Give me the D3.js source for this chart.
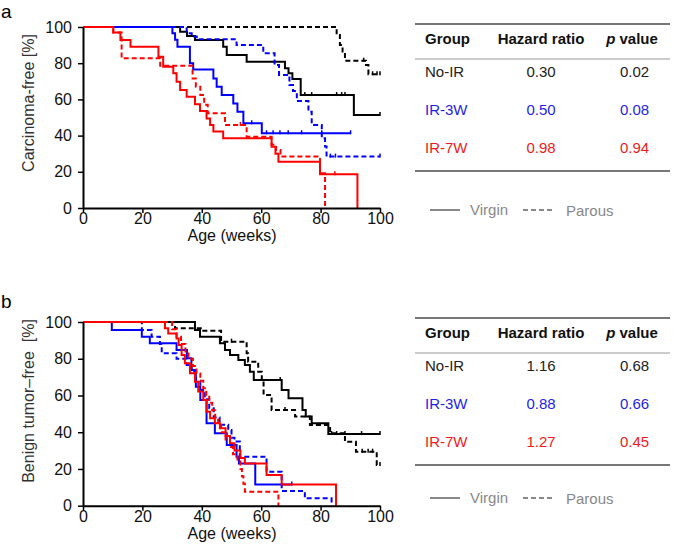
<!DOCTYPE html>
<html><head><meta charset="utf-8">
<script src="https://cdn.jsdelivr.net/npm/d3@7"></script>
<style>body{margin:0;background:#fff} text{font-family:Arial,"Liberation Sans",sans-serif}</style>
</head><body><svg id="c" width="675" height="558"></svg>
<script>
// ---------- DATA ----------
const xTicks = [0, 20, 40, 60, 80, 100];
const yTicks = [0, 20, 40, 60, 80, 100];
const groups = ["No-IR", "IR-3W", "IR-7W"];
const hrA = ["0.30", "0.50", "0.98"];
const pA  = ["0.02", "0.08", "0.94"];
const hrB = ["1.16", "0.88", "1.27"];
const pB  = ["0.68", "0.66", "0.45"];
const legendLabels = ["Virgin", "Parous"];

// Panel a (Carcinoma-free): [week, survival % after step]
const aNoIRVirgin = [[0,100],[32.7,97.4],[35,95],[37.7,92.8],[47.2,89.1],[48.4,84.5],[55.1,80.8],[68,77.2],[69.2,74.4],[70.5,71.3],[73.3,62.4],[91.2,51.4],[100,51.4]];
const aNoIRParous = [[0,100],[85.4,95.6],[86.5,90],[87.4,86.4],[88.2,81.4],[95.3,79],[96.1,73.9],[100,73.9]];
const aIR3Virgin  = [[0,100],[30.1,96.5],[31,93],[31.8,89.1],[36,80],[37.1,76.5],[43.9,71.6],[45,67],[46.7,62.4],[50.6,57.8],[52,53.2],[54,46.8],[60.2,41.3],[90.1,41.3]];
const aIR3Parous  = [[0,100],[34.9,96.5],[36.6,94.7],[38.3,93.2],[51.7,90],[60.7,85.5],[64.5,79],[66,73.5],[69.5,68],[70.7,64.6],[72,59.1],[75.9,53.2],[77,45.9],[80.4,38.5],[81.5,34],[82,28.4],[100,28.4]];
const aIR7Virgin  = [[0,100],[10.2,96.9],[12.6,92.8],[16,89.1],[25.4,83.6],[27,78],[30.4,74.4],[31.5,69.8],[32.7,65.2],[34.9,61.5],[37.7,57.3],[39.4,53.6],[41.6,49.5],[42.8,45.9],[43.9,42.2],[47.2,38.5],[63.5,33.9],[64.8,30],[65.8,25.6],[79.8,18.6],[92.4,0]];
const aIR7Parous  = [[0,100],[10.2,96.9],[13,82.7],[26,78.6],[36.9,71.6],[38,67],[39.5,62.4],[40.8,57],[42,52.3],[47.8,45.9],[55.1,39.4],[63.5,35],[65,32],[66.5,28.4],[79.8,19.2],[81.5,0]];
const aNoIRVirginCens = [74.7,77,85.4,87.1,88.2,100];
const aNoIRParousCens = [94.5,97.5,99,100];
const aIR3VirginCens = [56.8,61.8,64,66.3,69.1,73.6,80.4,90.1];
const aIR3ParousCens = [83.3,85,100];
const aIR7VirginCens = [84.8];
const aIR7ParousCens = [53];

// Panel b (Benign tumor-free)
const bNoIRVirgin = [[0,100],[37.7,95.6],[39.4,92],[46.1,88.4],[47.8,84.8],[49.5,82],[52.3,79.3],[54.5,76.6],[56.2,72.9],[57.5,68.4],[66.9,63],[69.2,58.5],[73.9,52.1],[75,48.5],[77,44.9],[82.6,39],[100,39]];
const bNoIRParous = [[0,100],[31,96.6],[40.5,95.3],[46.5,89.3],[55.1,83],[55.6,78.4],[59,72.9],[60.2,68.4],[60.8,60.3],[63.5,52.1],[71.4,48.5],[76.4,43.9],[83.2,39.4],[88.2,34.8],[91.9,29.4],[98.9,22.2],[100,22.2]];
const bIR3Virgin  = [[0,100],[9.7,95.6],[19.8,92],[22.5,88.4],[31.5,84.8],[35,80.2],[36.5,73.9],[38,64.8],[39.5,57.5],[41.6,44.9],[44.4,39.4],[48.4,33],[51.7,26.7],[52.5,23],[58,11.6],[70.3,11.6]];
const bIR3Parous  = [[0,100],[19.8,95.6],[23.1,92],[25.9,88],[26.5,83],[31.5,80],[34.9,76.6],[36.6,72.9],[38,68],[39.5,63],[41,58],[42.5,53],[44,48],[46,44],[48.9,41.2],[50,37],[51,35],[52.8,26.7],[61.8,18.5],[66.9,8],[74.7,4],[83.7,0]];
const bIR7Virgin  = [[0,100],[27.6,96.6],[28.7,93.8],[31.5,91],[32.2,87.5],[33.2,82],[34.3,77.5],[36,72.1],[37.7,67.5],[38.8,62.1],[40.5,57.5],[41.6,51.2],[42.8,47.6],[44.4,44.9],[46.1,42.1],[48,38],[49.5,34],[51,30],[53,26],[54.5,23],[61.8,16.7],[66.9,11.6],[85.2,0]];
const bIR7Parous  = [[0,100],[30,96],[31.5,92],[33,88],[34.5,84],[35.5,80],[37,76],[38.2,72],[39.5,68],[40.5,64],[41.5,60],[42.5,56],[43.5,52],[44.5,48],[45.5,44],[46.5,40],[48,36],[49.5,32],[50.5,28],[52,24],[53,20],[53.5,16],[54,12],[54.5,7.6],[65.8,0]];
const bNoIRVirginCens = [66.4,83.7,85.4,88.2,93.8,100];
const bNoIRParousCens = [50,68,94,96,97.5,100];
const bIR3VirginCens = [70.3];
const bIR3ParousCens = [];
const bIR7VirginCens = [];
const bIR7ParousCens = [];

// ---------- DRAW ----------
const BLACK = "#000", BLUE = "#0000ff", RED = "#ff0000";
const TXT = {"No-IR": "#222", "IR-3W": "#1f1fe6", "IR-7W": "#ec1c1c"};
const svg = d3.select("#c");

function valueAt(curve, t) {
  let v = curve[0][1];
  for (const p of curve) { if (p[0] <= t) v = p[1]; }
  return v;
}

function drawPanel(o) {
  const x = d3.scaleLinear().domain([0, 100]).range([83, 380]);
  const y = d3.scaleLinear().domain([0, 100]).range([o.y0, o.y100]);
  const g = svg.append("g");

  const line = d3.line().x(d => x(d[0])).y(d => y(d[1])).curve(d3.curveStepAfter);
  o.curves.forEach(c => {
    g.append("path").attr("d", line(c.data)).attr("fill", "none")
      .attr("stroke", c.color).attr("stroke-width", 2)
      .attr("stroke-dasharray", c.dash ? "5,3" : null);
    g.selectAll(null).data(c.cens).enter().append("line")
      .attr("x1", d => x(d)).attr("x2", d => x(d))
      .attr("y1", d => y(valueAt(c.data, d)) - 3)
      .attr("y2", d => y(valueAt(c.data, d)) + 1)
      .attr("stroke", c.color).attr("stroke-width", 1.5);
  });

  const xa = g.append("g").attr("transform", `translate(0,${o.y0})`)
    .call(d3.axisBottom(x).tickValues(xTicks).tickSize(5).tickSizeOuter(0).tickPadding(0));
  const ya = g.append("g").attr("transform", `translate(83,0)`)
    .call(d3.axisLeft(y).tickValues(yTicks).tickSize(5).tickSizeOuter(0).tickPadding(6));
  [xa, ya].forEach(a => {
    a.select(".domain").attr("stroke", "#000").attr("stroke-width", 2);
    a.selectAll(".tick line").attr("stroke", "#000").attr("stroke-width", 1.5);
    a.selectAll(".tick text").attr("font-size", 16).attr("fill", "#111")
      .attr("font-family", "Arial, 'Liberation Sans', sans-serif");
  });

  g.append("text").attr("x", 232).attr("y", o.y0 + 33).attr("text-anchor", "middle")
    .attr("font-size", 16).attr("fill", "#111").text("Age (weeks)");
  g.append("text").attr("transform", `translate(34,${o.ylabY}) rotate(-90)`)
    .attr("text-anchor", "middle").attr("font-size", 16).attr("fill", "#333")
    .style("white-space", "pre").text(o.ylabel);
  g.append("text").attr("x", 1).attr("y", o.letterY).attr("font-size", 19).attr("fill", "#000").text(o.letter);

  const t = o.tableTop;
  const tx0 = 415, tx1 = 670;
  g.append("line").attr("x1", tx0).attr("x2", tx1).attr("y1", t).attr("y2", t).attr("stroke", "#777").attr("stroke-width", 2);
  g.append("line").attr("x1", tx0).attr("x2", tx1).attr("y1", t + 35).attr("y2", t + 35).attr("stroke", "#999").attr("stroke-width", 1);
  g.append("line").attr("x1", tx0).attr("x2", tx1).attr("y1", t + 147).attr("y2", t + 147).attr("stroke", "#777").attr("stroke-width", 2);
  const hy = t + 19.5;
  g.append("text").attr("x", 425).attr("y", hy).attr("font-size", 15).attr("font-weight", "bold").attr("fill", "#111").text("Group");
  g.append("text").attr("x", 541).attr("y", hy).attr("text-anchor", "middle").attr("font-size", 15).attr("font-weight", "bold").attr("fill", "#111").text("Hazard ratio");
  const pv = g.append("text").attr("x", 632).attr("y", hy).attr("text-anchor", "middle").attr("font-size", 15).attr("font-weight", "bold").attr("fill", "#111");
  pv.append("tspan").attr("font-style", "italic").text("p");
  pv.append("tspan").text(" value");
  const rowY = [t + 53, t + 91, t + 129];
  groups.forEach((gr, i) => {
    g.append("text").attr("x", 425).attr("y", rowY[i]).attr("font-size", 15).attr("fill", TXT[gr]).text(gr);
    g.append("text").attr("x", 541).attr("y", rowY[i]).attr("text-anchor", "middle").attr("font-size", 15).attr("fill", TXT[gr]).text(o.hr[i]);
    g.append("text").attr("x", 634.5).attr("y", rowY[i]).attr("text-anchor", "middle").attr("font-size", 15).attr("fill", TXT[gr]).text(o.p[i]);
  });

  const ly = o.legendY;
  g.append("line").attr("x1", 430).attr("x2", 460).attr("y1", ly).attr("y2", ly).attr("stroke", "#888").attr("stroke-width", 2);
  g.append("text").attr("x", 470).attr("y", ly + 5).attr("font-size", 15).attr("fill", "#888").text(legendLabels[0]);
  g.append("line").attr("x1", 523).attr("x2", 553).attr("y1", ly).attr("y2", ly).attr("stroke", "#888").attr("stroke-width", 2).attr("stroke-dasharray", "5,3");
  g.append("text").attr("x", 566).attr("y", ly + 6).attr("font-size", 15).attr("fill", "#888").text(legendLabels[1]);
}

drawPanel({
  y0: 208, y100: 27, ylabel: "Carcinoma-free [%]", ylabY: 103, letter: "a", letterY: 18,
  tableTop: 24, legendY: 210, hr: hrA, p: pA,
  curves: [
    {data: aNoIRParous, cens: aNoIRParousCens, color: BLACK, dash: true},
    {data: aNoIRVirgin, cens: aNoIRVirginCens, color: BLACK, dash: false},
    {data: aIR3Parous, cens: aIR3ParousCens, color: BLUE, dash: true},
    {data: aIR3Virgin, cens: aIR3VirginCens, color: BLUE, dash: false},
    {data: aIR7Parous, cens: aIR7ParousCens, color: RED, dash: true},
    {data: aIR7Virgin, cens: aIR7VirginCens, color: RED, dash: false}
  ]
});
drawPanel({
  y0: 505.7, y100: 322, ylabel: "Benign tumor\u2013free\u00a0 [%]", ylabY: 401, letter: "b", letterY: 308,
  tableTop: 318, legendY: 498, hr: hrB, p: pB,
  curves: [
    {data: bNoIRParous, cens: bNoIRParousCens, color: BLACK, dash: true},
    {data: bNoIRVirgin, cens: bNoIRVirginCens, color: BLACK, dash: false},
    {data: bIR3Parous, cens: bIR3ParousCens, color: BLUE, dash: true},
    {data: bIR3Virgin, cens: bIR3VirginCens, color: BLUE, dash: false},
    {data: bIR7Parous, cens: bIR7ParousCens, color: RED, dash: true},
    {data: bIR7Virgin, cens: bIR7VirginCens, color: RED, dash: false}
  ]
});
</script>
</body></html>
